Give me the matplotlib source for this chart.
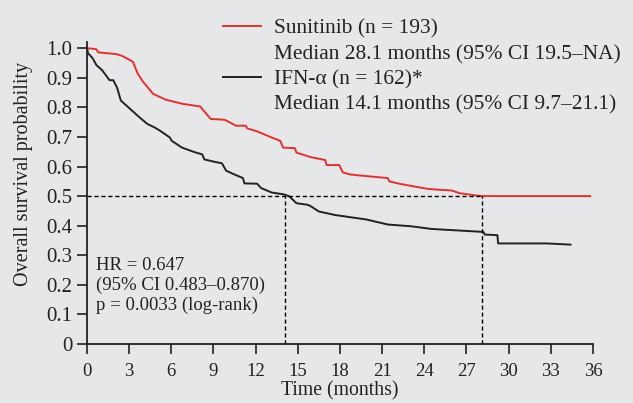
import matplotlib.pyplot as plt
from matplotlib.lines import Line2D

# Kaplan-Meier curves
suni_t = [0, 0.65, 0.8, 2.1, 2.5, 3.05, 3.27, 3.6, 4.0, 4.7, 5.6, 6.8, 8.05, 8.8, 9.8,
          10.6, 11.3, 11.4, 12.1, 13.15, 13.75, 13.95, 14.8, 14.9, 15.9, 16.95, 17.05,
          17.95, 18.2, 18.75, 19.8, 21.4, 21.5, 22.3, 24.3, 25.95, 26.5, 27.7, 28.2, 35.8]
suni_s = [1.0, 0.997, 0.986, 0.98, 0.974, 0.96, 0.954, 0.915, 0.886, 0.846, 0.826, 0.812,
          0.803, 0.761, 0.758, 0.738, 0.738, 0.729, 0.719, 0.698, 0.687, 0.664, 0.662,
          0.647, 0.632, 0.622, 0.605, 0.605, 0.58, 0.573, 0.568, 0.561, 0.55, 0.541,
          0.524, 0.519, 0.51, 0.502, 0.5, 0.5]

ifn_t = [0, 0.08, 0.2, 0.4, 0.67, 1.07, 1.34, 1.6, 1.87, 2.14, 2.41, 2.95, 3.6, 4.29,
         4.82, 5.2, 5.9, 6.03, 6.76, 7.63, 8.2, 8.35, 9.07, 9.6, 9.9, 10.4, 11.1, 11.2,
         12.1, 12.4, 13.15, 14.0, 14.4, 14.9, 15.66, 15.88, 16.5, 17.66, 19.87, 21.4,
         23.06, 24.5, 28.2, 28.3, 29.2, 29.25, 32.7, 34.4]
ifn_s = [1.0, 0.982, 0.977, 0.966, 0.943, 0.926, 0.909, 0.892, 0.892, 0.867, 0.823, 0.8,
         0.772, 0.744, 0.732, 0.721, 0.698, 0.687, 0.664, 0.649, 0.641, 0.624, 0.616,
         0.611, 0.586, 0.575, 0.561, 0.543, 0.542, 0.527, 0.512, 0.506, 0.499, 0.476,
         0.471, 0.467, 0.448, 0.436, 0.421, 0.404, 0.398, 0.389, 0.379, 0.37, 0.368,
         0.34, 0.34, 0.336]

median_suni = 28.1
median_ifn = 14.1

x_ticks = list(range(0, 37, 3))
y_ticks = [0, 0.1, 0.2, 0.3, 0.4, 0.5, 0.6, 0.7, 0.8, 0.9, 1.0]
y_labels = ['0', '0.1', '0.2', '0.3', '0.4', '0.5', '0.6', '0.7', '0.8', '0.9', '1.0']

legend_labels = ['Sunitinib (n = 193)', 'Median 28.1 months (95% CI 19.5\u2013NA)',
                 'IFN-\u03b1 (n = 162)*', 'Median 14.1 months (95% CI 9.7\u201321.1)']
stats_text = 'HR = 0.647\n(95% CI 0.483\u20130.870)\np = 0.0033 (log-rank)'

bg = '#e6e7e9'
red = '#e8302a'
ink = '#222222'

plt.rcParams['font.family'] = ['Liberation Serif', 'DejaVu Serif']

fig = plt.figure(figsize=(6.33, 4.03), dpi=100, facecolor=bg)
ax = fig.add_axes([0.1374, 0.1464, 0.7994, 0.7501])
ax.set_facecolor(bg)

ax.plot(suni_t, suni_s, color=red, lw=1.4)
ax.plot(ifn_t, ifn_s, color=ink, lw=1.4)

# median guide lines
dash = dict(color='black', lw=1.0, ls=(0, (3, 2)))
ax.plot([0, median_suni], [0.5, 0.5], **dash)
ax.plot([median_ifn, median_ifn], [0, 0.5], **dash)
ax.plot([median_suni, median_suni], [0, 0.5], **dash)

ax.set_xlim(0, 36)
ax.set_ylim(0, 1.022)
ax.set_xticks(x_ticks)
ax.set_yticks(y_ticks)
ax.set_yticklabels(y_labels)
ax.tick_params(axis='both', direction='out', length=7.5, width=1.2, colors=ink)
ax.tick_params(axis='y', pad=3, labelsize=15)
ax.tick_params(axis='x', pad=6, labelsize=13.5)
for side in ['top', 'right']:
    ax.spines[side].set_visible(False)
for side in ['left', 'bottom']:
    ax.spines[side].set_linewidth(1.3)
    ax.spines[side].set_color(ink)

ax.set_xlabel('Time (months)', fontsize=14.2, labelpad=1, color=ink)
ax.set_ylabel('Overall survival probability', fontsize=14.5, color=ink)
ax.yaxis.set_label_coords(-0.106, 0.563)

ax.text(0.017, 0.192, stats_text, transform=ax.transAxes, fontsize=13.5,
        linespacing=1.2, va='center', ha='left', color=ink)

handles = [Line2D([], [], color=red, lw=1.4), Line2D([], [], lw=0),
           Line2D([], [], color=ink, lw=1.4), Line2D([], [], lw=0)]
fig.legend(handles, legend_labels, loc='upper left', bbox_to_anchor=(223 / 633, 1 - 19 / 403),
           frameon=False, fontsize=15.4, handlelength=1.78, handletextpad=0.62,
           borderpad=0, borderaxespad=0, labelspacing=0.24, labelcolor=ink)

fig.savefig('out.png', dpi=100, facecolor=bg)
